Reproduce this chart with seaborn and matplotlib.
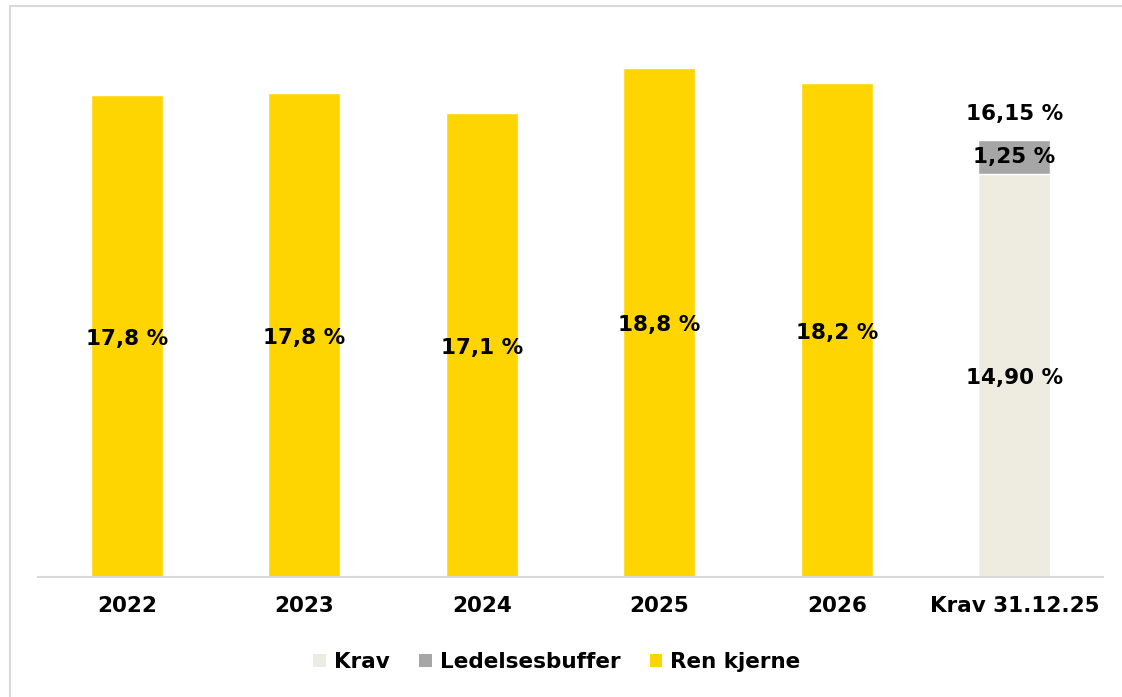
import pandas as pd
import matplotlib.pyplot as plt
import seaborn as sns
from matplotlib.patches import Rectangle, Patch

# Ren kjerne per år, og kravet per 31.12.25
kategorier = ["2022", "2023", "2024", "2025", "2026", "Krav 31.12.25"]
aar = ["2022", "2023", "2024", "2025", "2026"]
ren_kjerne = [17.82, 17.9, 17.15, 18.8, 18.27]
ren_kjerne_tekst = ["17,8 %", "17,8 %", "17,1 %", "18,8 %", "18,2 %"]
krav = [14.90]
buffer = [1.25]
krav_tekst = ["14,90 %"]
buffer_tekst = ["1,25 %"]
total_tekst = ["16,15 %"]

farger = {"Krav": "#EEEBE0", "Ledelsesbuffer": "#A6A6A6", "Ren kjerne": "#FFD500"}

sns.set_theme(style="white")
plt.rcParams['font.family'] = ['DejaVu Sans']
plt.rcParams['text.color'] = 'black'
plt.rcParams['xtick.color'] = 'black'

fig = plt.figure(figsize=(11.22, 6.97), dpi=100)
ax = fig.add_axes([38/1122, 1-577/697, 1065/1122, (577-36)/697])

df_aar = pd.DataFrame({"kategori": aar, "verdi": ren_kjerne})
df_krav = pd.DataFrame({"kategori": ["Krav 31.12.25"], "krav": krav,
                        "total": [k + b for k, b in zip(krav, buffer)]})

sns.barplot(data=df_aar, x="kategori", y="verdi", order=kategorier,
            color=farger["Ren kjerne"], saturation=1, width=0.405, ax=ax)
sns.barplot(data=df_krav, x="kategori", y="total", order=kategorier,
            color=farger["Ledelsesbuffer"], saturation=1, width=0.405, ax=ax)
sns.barplot(data=df_krav, x="kategori", y="krav", order=kategorier,
            color=farger["Krav"], saturation=1, width=0.405, ax=ax)

fs = 15.5
# etiketter
for i, (v, t) in enumerate(zip(ren_kjerne, ren_kjerne_tekst)):
    ax.text(i, v / 2 - 0.1, t, ha="center", va="center", fontsize=fs, fontweight="bold", color="black")
ki = kategorier.index("Krav 31.12.25")
ax.text(ki, krav[0] / 2 - 0.1, krav_tekst[0], ha="center", va="center", fontsize=fs, fontweight="bold")
ax.text(ki, krav[0] + buffer[0] / 2, buffer_tekst[0], ha="center", va="center", fontsize=fs, fontweight="bold")
ax.text(ki, krav[0] + buffer[0] + 0.95, total_tekst[0], ha="center", va="center", fontsize=fs, fontweight="bold")

ax.set_ylim(0, 20)
ax.set_xlim(-0.5, len(kategorier) - 0.5)
ax.set_xlabel("")
ax.set_ylabel("")
ax.set_yticks([])
ax.tick_params(axis="x", length=0, pad=14, labelsize=fs)
for lab in ax.get_xticklabels():
    lab.set_fontweight("bold")
for s in ["top", "right", "left"]:
    ax.spines[s].set_visible(False)
ax.spines["bottom"].set_color("#D9D9D9")
ax.spines["bottom"].set_linewidth(1.5)

handles = [Patch(facecolor=farger[n], edgecolor="none", label=n) for n in ["Krav", "Ledelsesbuffer", "Ren kjerne"]]
leg = fig.legend(handles=handles, loc="center", bbox_to_anchor=(557/1122, 1-662/697), ncol=3,
                 frameon=False, handlelength=0.6, handleheight=0.6, handletextpad=0.37,
                 columnspacing=1.35, prop={"size": fs, "weight": "bold"})

# ramme rundt diagrammet
fig.patches.append(Rectangle((10/1122, -0.1), 1.2, 1.1 - 6/697, transform=fig.transFigure,
                             fill=False, edgecolor="#D9D9D9", linewidth=1.5))

fig.savefig("out.png", dpi=100)
